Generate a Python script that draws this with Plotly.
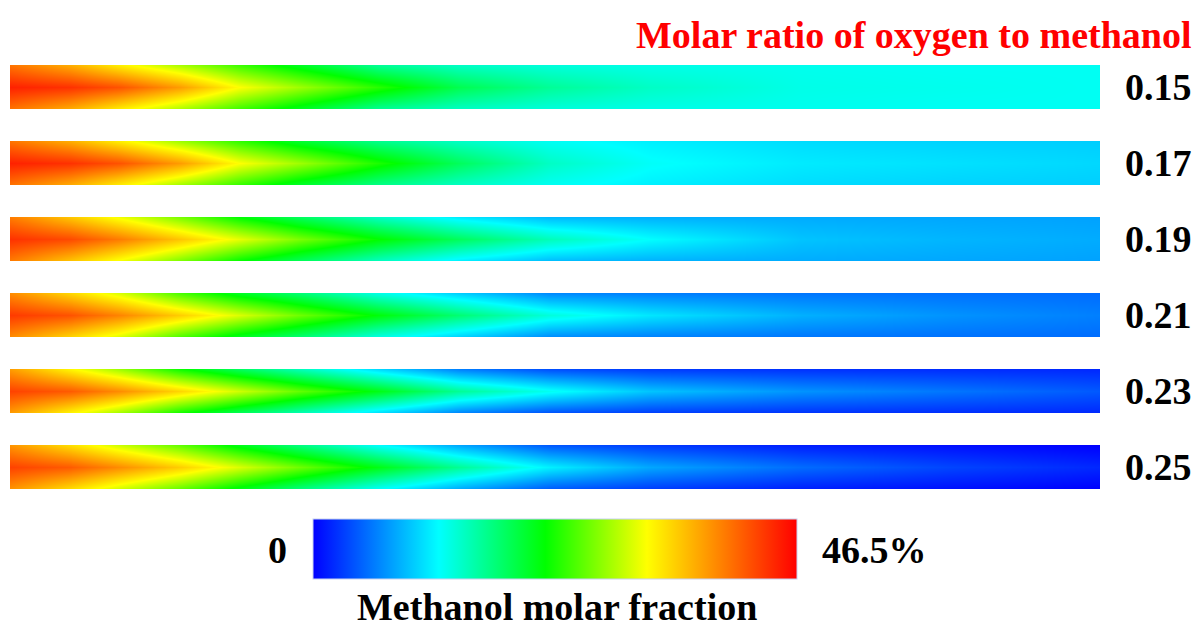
import plotly.graph_objects as go
import numpy as np

# ---------------- data ----------------
MAX_PCT = 46.5  # colour scale maximum, %
ratios = ["0.15", "0.17", "0.19", "0.21", "0.23", "0.25"]
# axial stations along the reactor (% of length)
x_stations = [0, 5.5, 10, 15.6, 21, 26.6, 33.9, 41.3, 49.5, 58.7, 72.5, 86.2, 100]

# methanol fraction, as fraction of full scale (46.5 %), on the centre line
center_vals = [
    [0.96, 0.94, 0.90, 0.81, 0.69, 0.61, 0.51, 0.41, 0.35, 0.31, 0.28, 0.275, 0.27],
    [0.96, 0.94, 0.90, 0.81, 0.69, 0.61, 0.50, 0.40, 0.31, 0.265, 0.24, 0.23, 0.22],
    [0.94, 0.91, 0.85, 0.76, 0.67, 0.58, 0.48, 0.40, 0.32, 0.26, 0.20, 0.185, 0.175],
    [0.93, 0.90, 0.84, 0.75, 0.66, 0.57, 0.47, 0.38, 0.29, 0.235, 0.18, 0.15, 0.13],
    [0.92, 0.89, 0.83, 0.74, 0.65, 0.56, 0.46, 0.35, 0.27, 0.20, 0.15, 0.12, 0.09],
    [0.92, 0.89, 0.83, 0.75, 0.66, 0.57, 0.46, 0.35, 0.245, 0.17, 0.11, 0.07, 0.04],
]
# ... and at the wall
wall_vals = [
    [0.86, 0.79, 0.71, 0.62, 0.53, 0.45, 0.35, 0.31, 0.29, 0.28, 0.275, 0.27, 0.27],
    [0.86, 0.79, 0.71, 0.61, 0.52, 0.44, 0.36, 0.31, 0.27, 0.245, 0.225, 0.215, 0.21],
    [0.85, 0.76, 0.68, 0.58, 0.48, 0.40, 0.31, 0.24, 0.19, 0.18, 0.175, 0.17, 0.165],
    [0.83, 0.74, 0.66, 0.54, 0.45, 0.38, 0.28, 0.21, 0.14, 0.13, 0.12, 0.115, 0.11],
    [0.81, 0.70, 0.61, 0.49, 0.40, 0.32, 0.22, 0.13, 0.08, 0.06, 0.05, 0.045, 0.04],
    [0.82, 0.73, 0.65, 0.56, 0.46, 0.37, 0.26, 0.17, 0.09, 0.06, 0.03, 0.015, 0.0],
]
radial_pos = [0, 1, 2]  # wall, centre, wall

colorscale = [
    [0.0, "rgb(0,0,255)"],
    [0.26, "rgb(0,255,255)"],
    [0.48, "rgb(0,255,0)"],
    [0.69, "rgb(255,255,0)"],
    [1.0, "rgb(255,0,0)"],
]

W, H = 1196, 631
FONT = "Liberation Serif"
FS = 38

def py(p):
    return 1 - p / H

def px(p):
    return p / W

fig = go.Figure()
layout = {}
strip_top = [65, 141, 217, 293, 369, 445]
strip_h = 44
for i in range(6):
    c = np.array(center_vals[i]) * MAX_PCT
    w = np.array(wall_vals[i]) * MAX_PCT
    suffix = "" if i == 0 else str(i + 1)
    fig.add_trace(go.Heatmap(
        x=x_stations, y=radial_pos, z=[w, c, w],
        zsmooth="best", coloraxis="coloraxis",
        xaxis="x" + suffix, yaxis="y" + suffix,
        hoverinfo="skip",
    ))
    t = strip_top[i]
    layout["xaxis" + suffix] = dict(domain=[px(10), px(1100)], range=[0, 100],
                                    visible=False, anchor="y" + suffix)
    layout["yaxis" + suffix] = dict(domain=[py(t + strip_h), py(t)], range=[0, 2],
                                    visible=False, anchor="x" + suffix)

annotations = []
for i, r in enumerate(ratios):
    annotations.append(dict(
        x=px(1194), y=py(strip_top[i] + strip_h / 2), xref="paper", yref="paper",
        xanchor="right", yanchor="middle", text="<b>%s</b>" % r, showarrow=False,
        font=dict(family=FONT, size=FS, color="black")))

annotations.append(dict(
    x=px(1194), y=py(35), xref="paper", yref="paper", xanchor="right", yanchor="middle",
    text="<b>Molar ratio of oxygen to methanol</b>", showarrow=False,
    font=dict(family=FONT, size=FS, color="rgb(255,0,0)")))
annotations.append(dict(
    x=px(289), y=py(550), xref="paper", yref="paper", xanchor="right", yanchor="middle",
    text="<b>0</b>", showarrow=False, font=dict(family=FONT, size=FS, color="black")))
annotations.append(dict(
    x=px(820), y=py(550), xref="paper", yref="paper", xanchor="left", yanchor="middle",
    text="<b>46.5%</b>", showarrow=False, font=dict(family=FONT, size=FS, color="black")))
annotations.append(dict(
    x=px(557), y=py(607), xref="paper", yref="paper", xanchor="center", yanchor="middle",
    text="<b>Methanol molar fraction</b>", showarrow=False,
    font=dict(family=FONT, size=FS, color="black")))

fig.update_layout(
    width=W, height=H,
    margin=dict(l=0, r=0, t=0, b=0),
    paper_bgcolor="white", plot_bgcolor="white",
    showlegend=False,
    coloraxis=dict(
        cmin=0, cmax=MAX_PCT, colorscale=colorscale,
        colorbar=dict(
            orientation="h", x=px(555), xanchor="center", y=py(580), yanchor="bottom",
            len=484 / W, lenmode="fraction", thickness=60, thicknessmode="pixels",
            xpad=0, ypad=0, outlinewidth=1, outlinecolor="rgb(200,210,240)",
            showticklabels=False, ticks="",
        ),
    ),
    annotations=annotations,
    **layout,
)

fig.write_html("out.html")
